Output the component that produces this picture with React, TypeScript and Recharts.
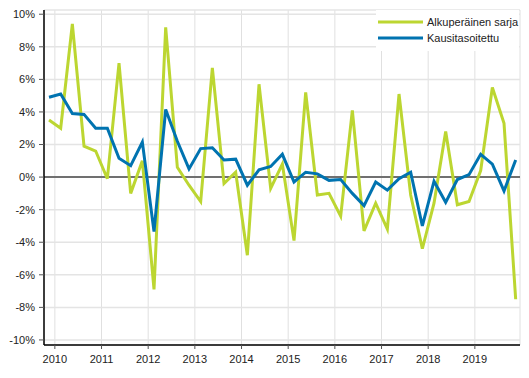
import { CartesianGrid, Legend, Line, LineChart, ReferenceLine, XAxis, YAxis } from 'recharts';

// 2009Q4 ... 2019Q4, year-on-year change (%)
const QUARTERS = [
  '2009Q4',
  '2010Q1', '2010Q2', '2010Q3', '2010Q4',
  '2011Q1', '2011Q2', '2011Q3', '2011Q4',
  '2012Q1', '2012Q2', '2012Q3', '2012Q4',
  '2013Q1', '2013Q2', '2013Q3', '2013Q4',
  '2014Q1', '2014Q2', '2014Q3', '2014Q4',
  '2015Q1', '2015Q2', '2015Q3', '2015Q4',
  '2016Q1', '2016Q2', '2016Q3', '2016Q4',
  '2017Q1', '2017Q2', '2017Q3', '2017Q4',
  '2018Q1', '2018Q2', '2018Q3', '2018Q4',
  '2019Q1', '2019Q2', '2019Q3', '2019Q4',
];

const ORIGINAL = [
  3.5, 3.0, 9.4, 1.9, 1.6, -0.1, 7.0, -1.0, 1.0, -6.9, 9.2, 0.6, -0.5, -1.5, 6.7, -0.4, 0.3, -4.8, 5.7, -0.7,
  0.8, -3.9, 5.2, -1.1, -1.0, -2.4, 4.1, -3.3, -1.6, -3.2, 5.1, -1.1, -4.4, -1.6, 2.8, -1.7, -1.5, 0.4, 5.5, 3.3,
  -7.5,
];

const ADJUSTED = [
  4.9, 5.1, 3.9, 3.85, 3.0, 3.0, 1.15, 0.7, 2.15, -3.35, 4.15, 2.2, 0.5, 1.75, 1.8, 1.05, 1.1, -0.5, 0.45, 0.65,
  1.4, -0.3, 0.3, 0.2, -0.2, -0.15, -1.0, -1.75, -0.3, -0.8, -0.1, 0.3, -3.0, -0.25, -1.55, -0.15, 0.15, 1.4, 0.8, -0.85,
  1.05,
];

const YEARS = ['2010', '2011', '2012', '2013', '2014', '2015', '2016', '2017', '2018', '2019'];
const Y_TICKS = [-10, -8, -6, -4, -2, 0, 2, 4, 6, 8, 10];

const GREEN = '#bcd631';
const BLUE = '#0073b0';
const FONT = '"Liberation Sans", Arial, sans-serif';

const chartData = QUARTERS.map((q, i) => ({ i, quarter: q, original: ORIGINAL[i], adjusted: ADJUSTED[i] }));
// year boundaries sit between Q4 and Q1
const yearTicks = YEARS.map((_, k) => 4 * k + 0.5);

function LegendBox() {
  const items = [
    { label: 'Alkuperäinen sarja', color: GREEN },
    { label: 'Kausitasoitettu', color: BLUE },
  ];
  return (
    <div style={{ background: '#fff', padding: '4px 0 5px 2px', fontFamily: FONT, fontSize: 11, color: '#222' }}>
      {items.map((it) => (
        <div key={it.label} style={{ display: 'flex', alignItems: 'center', height: 16 }}>
          <svg width={45} height={4} style={{ display: 'block' }}>
            <line x1={0} y1={2} x2={45} y2={2} stroke={it.color} strokeWidth={3} />
          </svg>
          <span style={{ marginLeft: 4, whiteSpace: 'nowrap' }}>{it.label}</span>
        </div>
      ))}
    </div>
  );
}

export default function App() {
  return (
    <div style={{ position: 'absolute', left: 0, top: 0, background: '#fff' }}>
      <LineChart width={529} height={378} data={chartData} margin={{ top: 10, right: 9, left: 0, bottom: 0 }}>
        <CartesianGrid horizontal={false} stroke="#e0e0e0" strokeWidth={1} />
        <CartesianGrid vertical={false} stroke="#e4e4e4" strokeWidth={1.5} />
        <XAxis
          type="number"
          dataKey="i"
          domain={[-0.43, 40.37]}
          ticks={yearTicks}
          tickFormatter={(v: number) => YEARS[Math.round((v - 0.5) / 4)]}
          height={33}
          tick={{ fill: '#222', fontSize: 11, fontFamily: FONT }}
          tickSize={4}
          tickMargin={6}
          tickLine={{ stroke: '#555' }}
          axisLine={{ stroke: '#000', strokeWidth: 1.5 }}
          allowDataOverflow
        />
        <YAxis
          type="number"
          domain={[-10.31, 10.26]}
          ticks={Y_TICKS}
          tickFormatter={(v: number) => `${v}%`}
          width={44}
          tick={{ fill: '#222', fontSize: 11, fontFamily: FONT }}
          tickSize={5}
          tickMargin={4}
          tickLine={{ stroke: '#555' }}
          axisLine={{ stroke: '#000', strokeWidth: 1.5 }}
          allowDataOverflow
        />
        <ReferenceLine y={0} stroke="#707070" strokeWidth={2} />
        <Legend
          layout="vertical"
          align="center"
          verticalAlign="middle"
          wrapperStyle={{ top: 10, left: 376, width: 143 }}
          content={() => <LegendBox />}
        />
        <Line
          type="linear"
          dataKey="original"
          name="Alkuperäinen sarja"
          stroke={GREEN}
          strokeWidth={3}
          dot={false}
          activeDot={false}
          isAnimationActive={false}
        />
        <Line
          type="linear"
          dataKey="adjusted"
          name="Kausitasoitettu"
          stroke={BLUE}
          strokeWidth={3}
          dot={false}
          activeDot={false}
          isAnimationActive={false}
        />
      </LineChart>
    </div>
  );
}
